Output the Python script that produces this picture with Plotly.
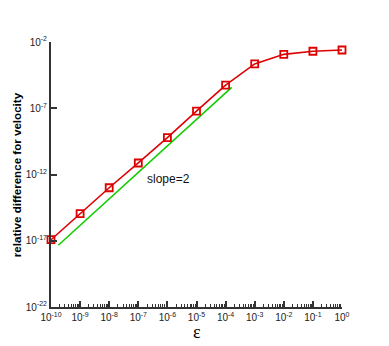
import plotly.graph_objects as go

eps = [1e-10, 1e-9, 1e-8, 1e-7, 1e-6, 1e-5, 1e-4, 1e-3, 1e-2, 1e-1, 1e0]
rel_diff = [1.2e-17, 1.1e-15, 1.0e-13, 7.4e-12, 6.0e-10, 6.0e-8, 5.5e-6, 2.2e-4, 1.17e-3, 2.0e-3, 2.5e-3]

slope_x = [1.78e-10, 1.62e-4]
slope_y = [4.6e-18, 3.8e-6]

x_tickvals = [1e-10, 1e-9, 1e-8, 1e-7, 1e-6, 1e-5, 1e-4, 1e-3, 1e-2, 1e-1, 1e0]
x_ticktext = ["10<sup>-10</sup>", "10<sup>-9</sup>", "10<sup>-8</sup>", "10<sup>-7</sup>",
              "10<sup>-6</sup>", "10<sup>-5</sup>", "10<sup>-4</sup>", "10<sup>-3</sup>",
              "10<sup>-2</sup>", "10<sup>-1</sup>", "10<sup>0</sup>"]
y_tickvals = [1e-22, 1e-17, 1e-12, 1e-7, 1e-2]
y_ticktext = ["10<sup>-22</sup>", "10<sup>-17</sup>", "10<sup>-12</sup>", "10<sup>-7</sup>", "10<sup>-2</sup>"]

RED = "#dd0000"
GREEN = "#11cc00"
AX = "#333333"

fig = go.Figure()
fig.add_trace(go.Scatter(x=slope_x, y=slope_y, mode="lines",
                         line=dict(color=GREEN, width=1.6), showlegend=False))
fig.add_trace(go.Scatter(x=eps, y=rel_diff, mode="lines+markers",
                         line=dict(color=RED, width=1.6),
                         marker=dict(symbol="square-open", size=7, color=RED,
                                     line=dict(width=1.8, color=RED)),
                         showlegend=False, cliponaxis=False))

fig.add_annotation(x=-6.77, y=-12.36, xref="x", yref="y", text="slope=2",
                   showarrow=False, xanchor="left", yanchor="middle",
                   font=dict(family="Liberation Sans, Arial", size=12, color="#111111"))
fig.add_annotation(x=-0.118, y=0.5, xref="paper", yref="paper",
                   text="<b>relative difference for velocity</b>", textangle=-90,
                   showarrow=False, xanchor="center", yanchor="middle",
                   font=dict(family="Liberation Sans, Arial", size=11.6, color="#000000"))
fig.add_annotation(x=0.5, y=-0.095, xref="paper", yref="paper", text="ε",
                   showarrow=False, xanchor="center", yanchor="middle",
                   font=dict(family="Liberation Serif, Times New Roman", size=18, color="#000000"))

fig.update_xaxes(type="log", range=[-10, 0], tickvals=x_tickvals, ticktext=x_ticktext,
                 ticks="inside", ticklen=6, tickwidth=1.5, tickcolor=AX,
                 showline=True, linecolor=AX, linewidth=2, showgrid=False, zeroline=False,
                 mirror=False,
                 tickfont=dict(family="Liberation Sans, Arial", size=10, color="#222222"),
                 minor=dict(ticks="inside", ticklen=3, tickwidth=1, tickcolor=AX, dtick="D1", showgrid=False))
fig.update_yaxes(type="log", range=[-22, -2], tickvals=y_tickvals, ticktext=y_ticktext,
                 ticks="inside", ticklen=6, tickwidth=1.5, tickcolor=AX,
                 showline=True, linecolor=AX, linewidth=2, showgrid=False, zeroline=False,
                 tickfont=dict(family="Liberation Sans, Arial", size=10, color="#222222"))

fig.update_layout(width=381, height=338, margin=dict(l=43, r=47, t=34, b=39),
                  paper_bgcolor="white", plot_bgcolor="white")

fig.write_html("out.html")
